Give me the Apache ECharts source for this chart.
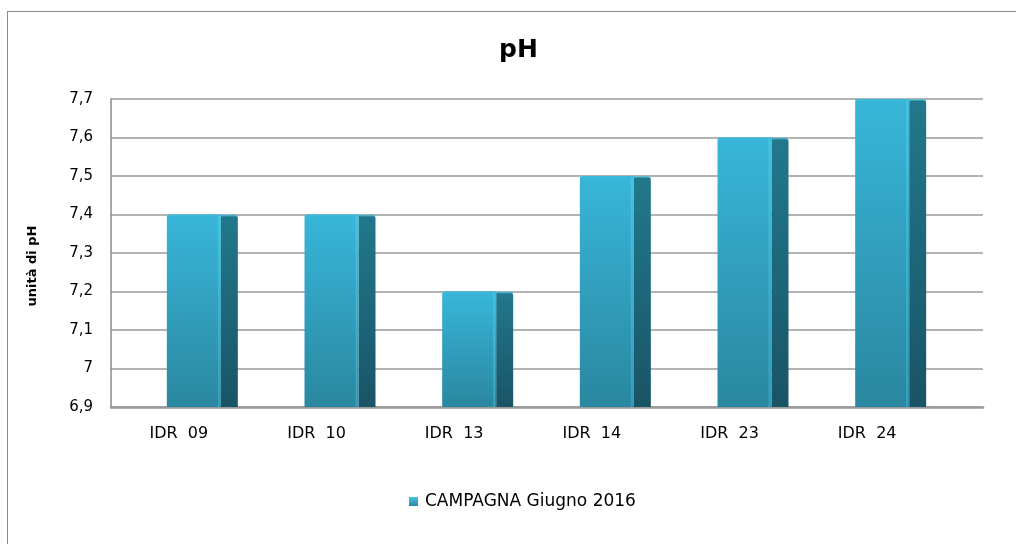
<!DOCTYPE html>
<html>
<head>
<meta charset="utf-8">
<script src="https://cdn.jsdelivr.net/npm/echarts@6/dist/echarts.min.js"></script>
<style>
html,body{margin:0;padding:0;background:#fff;overflow:hidden;}
#chart{position:absolute;left:0;top:0;width:1016px;height:544px;}
#frame{position:absolute;left:7px;top:11px;width:1100px;height:600px;border:1px solid #8a8a8a;pointer-events:none;}
</style>
</head>
<body>
<div id="chart"></div>
<div id="frame"></div>
<script>
const categories = ['IDR  09', 'IDR  10', 'IDR  13', 'IDR  14', 'IDR  23', 'IDR  24'];
const phValues = [7.4, 7.4, 7.2, 7.5, 7.6, 7.7];
const seriesName = 'CAMPAGNA Giugno 2016';
const titleText = 'pH';
const yAxisName = 'unità di pH';
const yMin = 6.9, yMax = 7.7, yStep = 0.1;

const FONT = 'DejaVu Sans';
const chart = echarts.init(document.getElementById('chart'), null, {renderer: 'canvas'});

const grad = (c1, c2) => new echarts.graphic.LinearGradient(0, 0, 0, 1, [
  {offset: 0, color: c1}, {offset: 1, color: c2}
]);

function renderItem(params, api) {
  const top = api.coord([api.value(0), api.value(1)]);
  const base = api.coord([api.value(0), yMin]);
  const cx = top[0];
  const x0 = cx - 59, x1 = cx - 5, x2 = cx + 12;
  const h = base[1] - top[1];
  return {
    type: 'group',
    children: [
      {type: 'rect', shape: {x: x1, y: top[1] + 1, width: x2 - x1, height: h - 1, r: [0, 3, 0, 0]},
       style: {fill: grad('#22788c', '#195466')}},
      {type: 'rect', shape: {x: x0, y: top[1], width: x1 - x0, height: h, r: [3, 0, 0, 0]},
       style: {fill: grad('#38b6d9', '#2a879f')}},
      {type: 'rect', shape: {x: x1 - 3, y: top[1] + 1, width: 2, height: h - 1},
       style: {fill: grad('#46c6e6', '#33a0bd')}},
      {type: 'rect', shape: {x: x0, y: top[1], width: x2 - x0, height: 2, r: [2, 3, 0, 0]},
       style: {fill: '#3fbadb', opacity: 0.6}}
    ]
  };
}

const labelFmt = v => String(Math.round(v * 10) / 10).replace('.', ',');

chart.setOption({
  animation: false,
  backgroundColor: '#fff',
  title: {
    text: titleText, left: 494, top: 33,
    textStyle: {fontFamily: FONT, fontSize: 25, fontWeight: 'bold', color: '#000'}
  },
  legend: {
    data: [seriesName], left: 404, top: 488,
    icon: 'rect', itemWidth: 9, itemHeight: 9, itemGap: 8,
    textStyle: {fontFamily: FONT, fontSize: 17, color: '#000', padding: [0, 0, 0, 2]}
  },
  grid: [
    {left: 111, right: 33, top: 99, bottom: 137, containLabel: false},
    {left: 157, right: 33, top: 99, bottom: 137, containLabel: false}
  ],
  xAxis: [
    {gridIndex: 0, type: 'category', data: [''],
     axisLine: {show: true, lineStyle: {color: '#9a9a9a', width: 2.5}},
     axisTick: {show: false}, axisLabel: {show: false}, splitLine: {show: false}},
    {gridIndex: 1, type: 'category', data: categories,
     axisLine: {show: false}, axisTick: {show: false},
     axisLabel: {fontFamily: FONT, fontSize: 16, color: '#000', margin: 19, padding: [0, 94, 0, 0]}}
  ],
  yAxis: [
    {gridIndex: 0, type: 'value', min: yMin, max: yMax, interval: yStep,
     name: yAxisName, nameLocation: 'middle', nameGap: 72, nameRotate: 90,
     nameTextStyle: {fontFamily: FONT, fontSize: 13, fontWeight: 'bold', color: '#000', padding: [0, 26, 0, 0]},
     axisLine: {show: true, lineStyle: {color: '#8a8a8a', width: 1.5}},
     axisTick: {show: false},
     axisLabel: {fontFamily: FONT, fontSize: 15, color: '#000', margin: 18, formatter: labelFmt},
     splitLine: {show: true, lineStyle: {color: '#9a9a9a', width: 1.5}}},
    {gridIndex: 1, type: 'value', min: yMin, max: yMax, interval: yStep, show: false, splitLine: {show: false}}
  ],
  series: [{
    name: seriesName,
    type: 'custom',
    xAxisIndex: 1, yAxisIndex: 1,
    itemStyle: {color: grad('#45c4e6', '#2a879f')},
    renderItem: renderItem,
    encode: {x: 0, y: 1},
    data: phValues.map((v, i) => [i, v])
  }]
});
</script>
</body>
</html>
